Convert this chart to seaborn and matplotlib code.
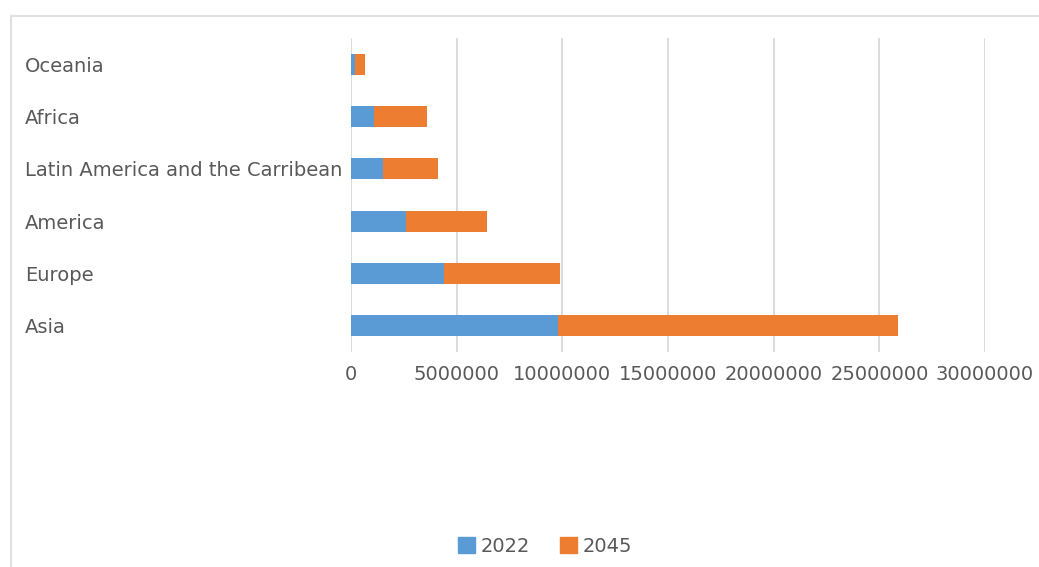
import matplotlib
matplotlib.use("Agg")
import matplotlib.pyplot as plt
import matplotlib.patches as mpatches
import seaborn as sns
import pandas as pd

categories = ["Oceania", "Africa", "Latin America and the Carribean", "America", "Europe", "Asia"]
values_2022 = [200000, 1100000, 1500000, 2600000, 4400000, 9800000]
values_2045 = [470000, 2500000, 2600000, 3850000, 5500000, 16100000]
series_names = ["2022", "2045"]
x_ticks = [0, 5000000, 10000000, 15000000, 20000000, 25000000, 30000000]

blue = "#5B9BD5"
orange = "#ED7D31"
text_grey = "#595959"
grid_grey = "#D9D9D9"

sns.set_theme(style="white")
plt.rcParams["font.family"] = ["DejaVu Sans"]

df = pd.DataFrame({"region": categories, "v2022": values_2022, "v2045": values_2045})
df["top"] = df["v2022"] + df["v2045"]

fig = plt.figure(figsize=(10.39, 5.67), dpi=100)
ax = fig.add_axes([351 / 1039, 1 - 352 / 567, (985 - 351) / 1039, (352 - 38) / 567])

sns.barplot(data=df, x="top", y="region", order=categories, color=orange,
            width=0.4, saturation=1, ax=ax, zorder=3, linewidth=0, edgecolor="none")
sns.barplot(data=df, x="v2022", y="region", order=categories, color=blue,
            width=0.4, saturation=1, ax=ax, zorder=4, linewidth=0, edgecolor="none")

ax.set_xlim(0, 30000000)
ax.set_ylim(5.5, -0.5)
ax.set_xticks(x_ticks)
ax.set_xticklabels([str(t) for t in x_ticks])
ax.set_xlabel("")
ax.set_ylabel("")
for s in ax.spines.values():
    s.set_visible(False)
ax.grid(axis="x", color=grid_grey, lw=1.3, zorder=0)
ax.grid(axis="y", visible=False)
ax.set_axisbelow(True)
ax.tick_params(axis="x", length=0, pad=9, labelsize=14, labelcolor=text_grey)
ax.tick_params(axis="y", length=0, pad=234.7, labelsize=14, labelcolor=text_grey)
for lab in ax.get_yticklabels():
    lab.set_horizontalalignment("left")

handles = [mpatches.Patch(color=blue, label=series_names[0]),
           mpatches.Patch(color=orange, label=series_names[1])]
leg = fig.legend(handles=handles, loc="center", bbox_to_anchor=(545 / 1039, 1 - 546 / 567),
                 ncol=2, frameon=False, fontsize=14, handlelength=0.9, handleheight=0.9,
                 handletextpad=0.3, columnspacing=1.5)
for t in leg.get_texts():
    t.set_color(text_grey)

border = mpatches.Rectangle((11 / 1039, -0.05), 1.0, 1 - 16 / 567 + 0.05,
                            transform=fig.transFigure, fill=False,
                            ec="#E0E0E0", lw=1.5)
fig.patches.append(border)

fig.savefig("out.png", dpi=100)
